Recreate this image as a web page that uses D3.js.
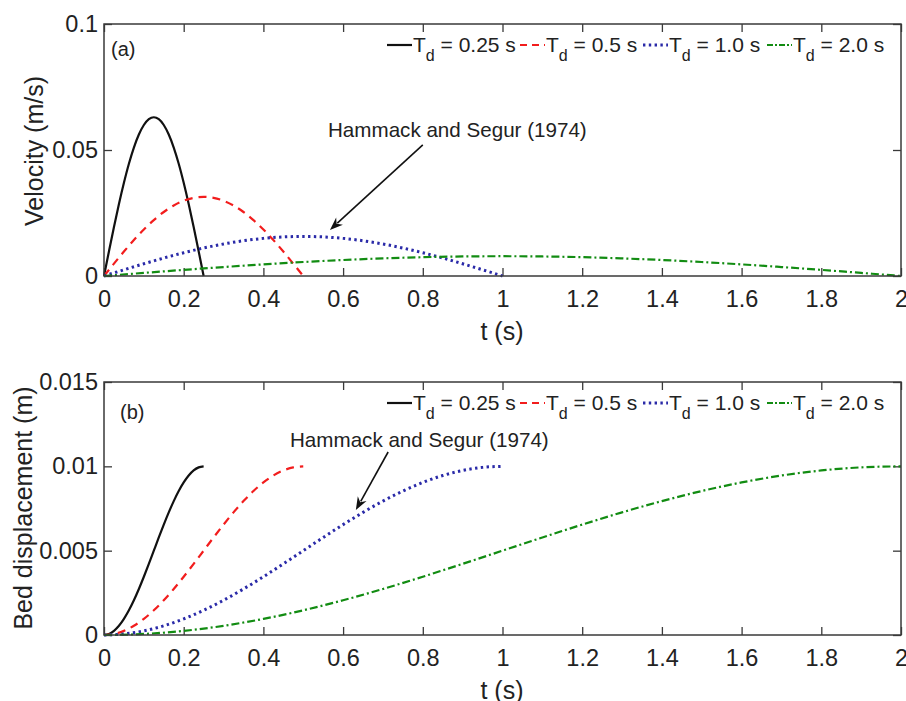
<!DOCTYPE html>
<html>
<head>
<meta charset="utf-8">
<script src="https://cdn.jsdelivr.net/npm/d3@7"></script>
<style>
  html, body { margin: 0; padding: 0; background: #fff; }
  svg { display: block; font-family: "Liberation Sans", Arial, sans-serif; }
</style>
</head>
<body>
<svg id="chart" width="906" height="701"></svg>
<script>
// Bed motion time series for four bed-uplift durations Td
const durations = ["0.25", "0.5", "1.0", "2.0"];

const t025 = [0, 0.0125, 0.025, 0.0375, 0.05, 0.0625, 0.075, 0.0875, 0.1, 0.1125, 0.125,
  0.1375, 0.15, 0.1625, 0.175, 0.1875, 0.2, 0.2125, 0.225, 0.2375, 0.25];
const t05 = [0, 0.025, 0.05, 0.075, 0.1, 0.125, 0.15, 0.175, 0.2, 0.225, 0.25,
  0.275, 0.3, 0.325, 0.35, 0.375, 0.4, 0.425, 0.45, 0.475, 0.5];
const t10 = [0, 0.05, 0.1, 0.15, 0.2, 0.25, 0.3, 0.35, 0.4, 0.45, 0.5,
  0.55, 0.6, 0.65, 0.7, 0.75, 0.8, 0.85, 0.9, 0.95, 1.0];
const t20 = [0, 0.1, 0.2, 0.3, 0.4, 0.5, 0.6, 0.7, 0.8, 0.9, 1.0,
  1.1, 1.2, 1.3, 1.4, 1.5, 1.6, 1.7, 1.8, 1.9, 2.0];

// Velocity (m/s)
const vel025 = [0, 0.00985, 0.01947, 0.0286, 0.0370, 0.04455, 0.05097, 0.05613, 0.05992, 0.06223, 0.0630,
  0.06223, 0.05992, 0.05613, 0.05097, 0.04455, 0.0370, 0.0286, 0.01947, 0.00985, 0];
const vel05 = [0, 0.00491, 0.00970, 0.01426, 0.01846, 0.0222, 0.0254, 0.02798, 0.02986, 0.03101, 0.0314,
  0.03101, 0.02986, 0.02798, 0.0254, 0.0222, 0.01846, 0.01426, 0.00970, 0.00491, 0];
const vel10 = [0, 0.00246, 0.00485, 0.00713, 0.00923, 0.0111, 0.0127, 0.01399, 0.01493, 0.01551, 0.0157,
  0.01551, 0.01493, 0.01399, 0.0127, 0.0111, 0.00923, 0.00713, 0.00485, 0.00246, 0];
const vel20 = [0, 0.00123, 0.00243, 0.00356, 0.00461, 0.00555, 0.00635, 0.00699, 0.00747, 0.00775, 0.00785,
  0.00775, 0.00747, 0.00699, 0.00635, 0.00555, 0.00461, 0.00356, 0.00243, 0.00123, 0];

// Bed displacement (m)
const disp025 = [0, 0.0000616, 0.000245, 0.000545, 0.000955, 0.001464, 0.002061, 0.00273, 0.003455, 0.004218, 0.005,
  0.005782, 0.006545, 0.00727, 0.007939, 0.008536, 0.009045, 0.009455, 0.009755, 0.009938, 0.01];
const disp05 = [0, 0.0000616, 0.000245, 0.000545, 0.000955, 0.001464, 0.002061, 0.00273, 0.003455, 0.004218, 0.005,
  0.005782, 0.006545, 0.00727, 0.007939, 0.008536, 0.009045, 0.009455, 0.009755, 0.009938, 0.01];
const disp10 = [0, 0.0000616, 0.000245, 0.000545, 0.000955, 0.001464, 0.002061, 0.00273, 0.003455, 0.004218, 0.005,
  0.005782, 0.006545, 0.00727, 0.007939, 0.008536, 0.009045, 0.009455, 0.009755, 0.009938, 0.01];
const disp20 = [0, 0.0000616, 0.000245, 0.000545, 0.000955, 0.001464, 0.002061, 0.00273, 0.003455, 0.004218, 0.005,
  0.005782, 0.006545, 0.00727, 0.007939, 0.008536, 0.009045, 0.009455, 0.009755, 0.009938, 0.01];

const xTicks = [0, 0.2, 0.4, 0.6, 0.8, 1, 1.2, 1.4, 1.6, 1.8, 2];
const velTicks = [0, 0.05, 0.1];
const dispTicks = [0, 0.005, 0.01, 0.015];

const styles = [
  { color: "#111111", dash: null, width: 2.2 },
  { color: "#f21d1d", dash: "8,6", width: 2.2 },
  { color: "#2a2aa8", dash: "2.4,3.4", width: 3 },
  { color: "#128c12", dash: "8,3,2,3", width: 2.2 }
];

const times = [t025, t05, t10, t20];
const svg = d3.select("#chart");
const fmt = d => String(+d.toFixed(4));
const textCol = "#222";

function panel(cfg) {
  const x = d3.scaleLinear().domain([0, 2]).range([104, 901]);
  const y = d3.scaleLinear().domain(cfg.yDomain).range([cfg.bottom, cfg.top]);
  const g = svg.append("g");

  // Inward ticks on all four sides
  const tickLen = 8;
  const axisCol = "#3a3a3a";
  const addAxis = (axis, transform) => {
    const a = g.append("g").attr("transform", transform).call(axis);
    a.select(".domain").remove();
    a.selectAll(".tick line").attr("stroke", axisCol).attr("stroke-width", 1.3);
    return a;
  };
  const xb = addAxis(d3.axisBottom(x).tickValues(xTicks).tickSizeInner(-tickLen).tickSizeOuter(0).tickPadding(14).tickFormat(fmt),
    `translate(0,${cfg.bottom})`);
  xb.selectAll("text").attr("font-size", 23.5).attr("fill", textCol).attr("font-family", "Liberation Sans, Arial, sans-serif");
  addAxis(d3.axisTop(x).tickValues(xTicks).tickSizeInner(-tickLen).tickSizeOuter(0).tickFormat(""),
    `translate(0,${cfg.top})`);
  const yl = addAxis(d3.axisLeft(y).tickValues(cfg.yTicks).tickSizeInner(-tickLen).tickSizeOuter(0).tickPadding(6).tickFormat(fmt),
    `translate(104,0)`);
  yl.selectAll("text").attr("font-size", 23.5).attr("fill", textCol).attr("font-family", "Liberation Sans, Arial, sans-serif");
  addAxis(d3.axisRight(y).tickValues(cfg.yTicks).tickSizeInner(-tickLen).tickSizeOuter(0).tickFormat(""),
    `translate(901,0)`);

  // Curves
  const line = d3.line().x(d => x(d[0])).y(d => y(d[1])).curve(d3.curveMonotoneX);
  cfg.series.forEach((vals, i) => {
    const pts = times[i].map((t, k) => [t, vals[k]]);
    const s = styles[i];
    g.append("path").datum(pts).attr("d", line)
      .attr("fill", "none").attr("stroke", s.color).attr("stroke-width", s.width)
      .attr("stroke-dasharray", s.dash).attr("stroke-linecap", "butt");
  });

  // Frame
  g.append("rect").attr("x", 104).attr("y", cfg.top).attr("width", 797).attr("height", cfg.bottom - cfg.top)
    .attr("fill", "none").attr("stroke", axisCol).attr("stroke-width", 1.5);

  // Axis titles
  g.append("text").attr("x", 502).attr("y", cfg.bottom + 64).attr("text-anchor", "middle")
    .attr("font-size", 25).attr("fill", textCol).text("t (s)");
  g.append("text").attr("transform", `translate(${cfg.yLabelX},${cfg.yLabelY}) rotate(-90)`)
    .attr("text-anchor", "middle").attr("font-size", 25).attr("fill", textCol).text(cfg.yLabel);

  // Panel tag
  g.append("text").attr("x", cfg.tagX).attr("y", cfg.tagY).attr("font-size", 20)
    .attr("fill", textCol).text(cfg.tag);

  // Legend
  const ly = cfg.top + 21;
  const starts = [387, 520, 643, 767];
  durations.forEach((d, i) => {
    const s = styles[i];
    const x0 = starts[i];
    g.append("line").attr("x1", x0).attr("x2", x0 + 25).attr("y1", ly).attr("y2", ly)
      .attr("stroke", s.color).attr("stroke-width", s.width)
      .attr("stroke-dasharray", i === 1 ? "7,5" : (i === 3 ? "6,2,2,2" : s.dash));
    const tx = g.append("text").attr("x", x0 + 26).attr("y", ly + 7).attr("font-size", 21).attr("fill", textCol);
    tx.append("tspan").text("T");
    tx.append("tspan").attr("font-size", 16).attr("dy", 9).text("d");
    tx.append("tspan").attr("dy", -9).text(` = ${d} s`);
  });

  // Annotation with arrow
  const an = cfg.note;
  g.append("text").attr("x", an.tx).attr("y", an.ty).attr("font-size", 20.6).attr("fill", textCol)
    .text("Hammack and Segur (1974)");
  const x1 = x(an.from[0]), y1 = y(an.from[1]), x2 = x(an.to[0]), y2 = y(an.to[1]);
  const ang = Math.atan2(y2 - y1, x2 - x1);
  const hl = 13, hw = 5;
  const bx = x2 - hl * Math.cos(ang), by = y2 - hl * Math.sin(ang);
  g.append("line").attr("x1", x1).attr("y1", y1).attr("x2", bx + 3 * Math.cos(ang)).attr("y2", by + 3 * Math.sin(ang))
    .attr("stroke", "#111").attr("stroke-width", 1.6);
  const p = [
    [x2, y2],
    [bx + hw * Math.sin(ang), by - hw * Math.cos(ang)],
    [bx + 4 * Math.cos(ang), by + 4 * Math.sin(ang)],
    [bx - hw * Math.sin(ang), by + hw * Math.cos(ang)]
  ];
  g.append("path").attr("d", "M" + p.map(q => q.join(",")).join("L") + "Z").attr("fill", "#111");
}

panel({
  top: 24, bottom: 276, yDomain: [0, 0.1], yTicks: velTicks,
  series: [vel025, vel05, vel10, vel20],
  yLabel: "Velocity (m/s)", yLabelX: 43, yLabelY: 151, tag: "(a)", tagX: 111, tagY: 56,
  note: { tx: 328, ty: 137, from: [0.80, 0.052], to: [0.567, 0.0183] }
});

panel({
  top: 382, bottom: 635, yDomain: [0, 0.015], yTicks: dispTicks,
  series: [disp025, disp05, disp10, disp20],
  yLabel: "Bed displacement (m)", yLabelX: 32, yLabelY: 508, tag: "(b)", tagX: 120, tagY: 419,
  note: { tx: 290, ty: 447, from: [0.713, 0.01085], to: [0.632, 0.00741] }
});
</script>
</body>
</html>
